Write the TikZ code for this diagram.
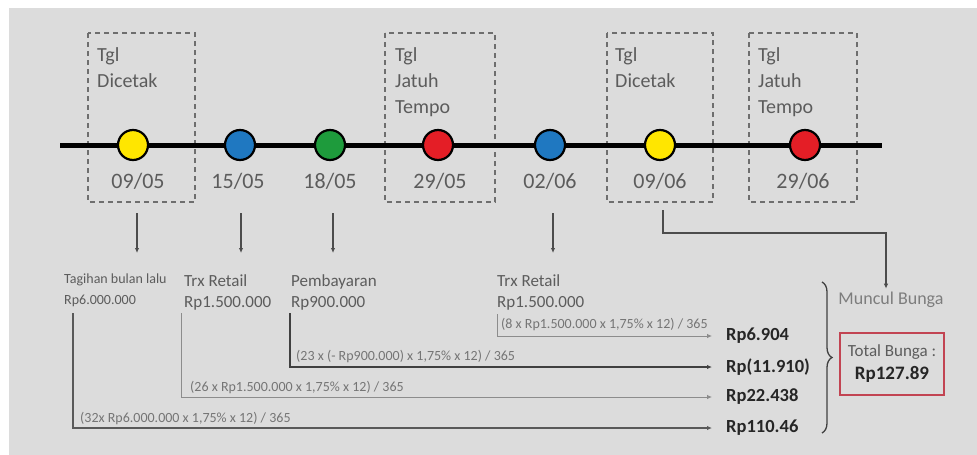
\documentclass[tikz,border=0pt]{standalone}
\usepackage{fontspec}
\setmainfont{Carlito}
\usetikzlibrary{arrows.meta,decorations.pathreplacing}

\definecolor{bggray}{HTML}{DCDCDC}
\definecolor{boxgray}{HTML}{6E6E6E}
\definecolor{txtgray}{HTML}{5C5C5C}
\definecolor{dotyellow}{HTML}{FFE600}
\definecolor{dotblue}{HTML}{1F78C1}
\definecolor{dotgreen}{HTML}{1E9B3C}
\definecolor{dotred}{HTML}{E41E26}
\definecolor{boxred}{HTML}{C24452}

\tikzset{
  tglbox/.style={draw=boxgray, line width=1.3pt, dash pattern=on 5pt off 4pt},
  dot/.style={circle, draw=black, line width=2.2pt, minimum size=30pt, inner sep=0pt},
  date/.style={text=txtgray, font=\fontsize{22}{24}\selectfont},
  tgl/.style={text=txtgray, font=\fontsize{20}{26}\selectfont, align=left, anchor=north west, inner sep=0pt},
  lbl/.style={text=txtgray, font=\fontsize{17}{21}\selectfont, align=left, anchor=north west, inner sep=0pt},
  calc/.style={text=txtgray!85, font=\fontsize{14}{16}\selectfont, anchor=base west, inner sep=0pt},
  res/.style={text=black!85, font=\bfseries\fontsize{18.5}{20}\selectfont, anchor=west, inner xsep=14pt, inner ysep=2pt},
  down/.style={draw=black!70, line width=1.2pt, -{Latex[length=5pt,width=4.5pt]}},
  feed/.style={line width=#1, -{Latex[length=5pt,width=4.5pt]}},
}

\begin{document}
\begin{tikzpicture}[x=1pt,y=-1pt]

\useasboundingbox (0,0) rectangle (977,455);
\fill[white] (0,0) rectangle (977,455);
\fill[bggray] (9,8) rectangle (977,455);

% dashed boxes round the dates
\draw[tglbox] (88,33) rectangle (195,202);
\draw[tglbox] (385,33) rectangle (495,202);
\draw[tglbox] (607,33) rectangle (713,202);
\draw[tglbox] (749,33) rectangle (857,202);

\node[tgl] (k1) at (97,47) {Tgl\\Dicetak};
\node[tgl] (k2) at (395,47) {Tgl\\Jatuh\\Tempo};
\node[tgl] (k3) at (615,47) {Tgl\\Dicetak};
\node[tgl] (k4) at (758,47) {Tgl\\Jatuh\\Tempo};

% timeline
\coordinate (tl0) at (60,145);
\coordinate (tl1) at (882,145);
\draw[line width=5pt] (tl0) -- (tl1);

\node[dot, fill=dotyellow] (d1) at (133,145) {};
\node[dot, fill=dotblue] (d2) at (240,145) {};
\node[dot, fill=dotgreen] (d3) at (330,145) {};
\node[dot, fill=dotred] (d4) at (438,145) {};
\node[dot, fill=dotblue] (d5) at (550,145) {};
\node[dot, fill=dotyellow] (d6) at (660,145) {};
\node[dot, fill=dotred] (d7) at (805,145) {};

\node[date] (t1) at (138,181) {09/05};
\node[date] (t2) at (238,181) {15/05};
\node[date] (t3) at (330,181) {18/05};
\node[date] (t4) at (440,181) {29/05};
\node[date] (t5) at (550,181) {02/06};
\node[date] (t6) at (660,181) {09/06};
\node[date] (t7) at (803,181) {29/06};

% transactions
\node[lbl, font=\fontsize{14}{21}\selectfont] (l1) at (64,274) {Tagihan bulan lalu\\Rp6.000.000};
\node[lbl] (l2) at (184,274) {Trx Retail\\Rp1.500.000};
\node[lbl] (l3) at (291,274) {Pembayaran\\Rp900.000};
\node[lbl] (l4) at (497,274) {Trx Retail\\Rp1.500.000};

\coordinate (a1) at (137,213); \coordinate (b1) at (137,253);
\coordinate (a2) at (241,213); \coordinate (b2) at (241,253);
\coordinate (a3) at (333,213); \coordinate (b3) at (333,253);
\coordinate (a4) at (553,213); \coordinate (b4) at (553,253);
\draw[down] (a1) -- (b1);
\draw[down] (a2) -- (b2);
\draw[down] (a3) -- (b3);
\draw[down] (a4) -- (b4);

% interest per transaction
\node[res] (r1) at (712,336) {Rp6.904};
\node[res] (r2) at (712,367) {Rp(11.910)};
\node[res] (r3) at (712,397) {Rp22.438};
\node[res] (r4) at (712,428) {Rp110.46};

\coordinate (v1) at (497,314);
\coordinate (v2) at (290,313);
\coordinate (v3) at (181,313);
\coordinate (v4) at (73,313);
\draw[feed=0.8pt, draw=black!45] (v1) |- (r1.west);
\draw[feed=1.6pt, draw=black!75] (v2) |- (r2.west);
\draw[feed=0.8pt, draw=black!45] (v3) |- (r3.west);
\draw[feed=1.2pt, draw=black!65] (v4) |- (r4.west);

\node[calc] (f1) at (501,328) {(8 x Rp1.500.000 x 1,75\% x 12) / 365};
\node[calc] (f2) at (296,360) {(23 x (- Rp900.000) x 1,75\% x 12) / 365};
\node[calc] (f3) at (190,391) {(26 x Rp1.500.000 x 1,75\% x 12) / 365};
\node[calc] (f4) at (80,422) {(32x Rp6.000.000 x 1,75\% x 12) / 365};

% total
\coordinate (bt) at (822,282);
\coordinate (bb) at (822,433);
\draw[line width=1.3pt, draw=black!75, decorate, decoration={brace, amplitude=10pt}] (bt) -- (bb);

\node[text=txtgray!80, font=\fontsize{18}{20}\selectfont] (mb) at (891,300) {Muncul Bunga};
\coordinate (c6) at (663,210);
\coordinate (kink) at (886,233);
\draw[down] (c6) |- (kink) -- (kink |- mb.north);

\node[draw=boxred, line width=2pt, minimum width=104pt, minimum height=62pt, align=center,
  text=txtgray, font=\fontsize{17}{23}\selectfont] (tot) at (892,364)
  {Total Bunga :\\{\bfseries\color{black!85}\fontsize{19}{23}\selectfont Rp127.89}};

\end{tikzpicture}
\end{document}
